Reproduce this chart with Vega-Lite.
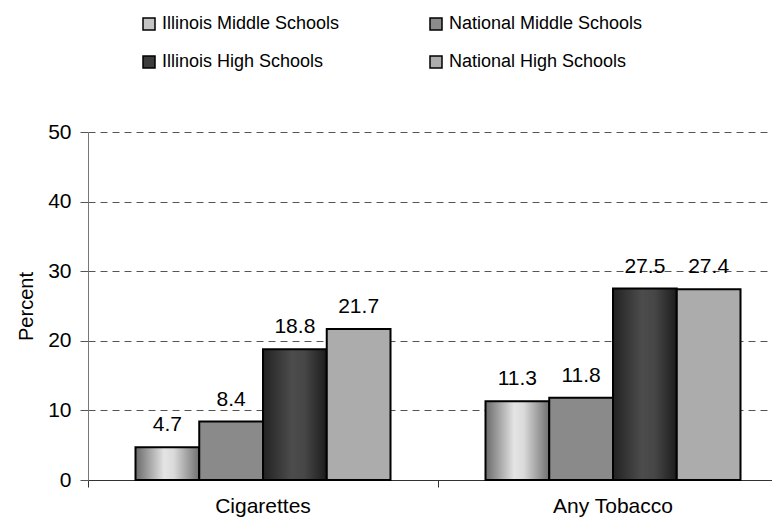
{
  "$schema": "https://vega.github.io/schema/vega-lite/v6.json",
  "width": 684,
  "height": 348,
  "autosize": {"type": "none"},
  "padding": {"left": 88, "top": 132, "right": 0, "bottom": 39},
  "background": "white",
  "config": {"view": {"stroke": null}, "font": "Liberation Sans"},
  "data": {
    "values": [
      {"measure": "Cigarettes", "group": "Illinois Middle Schools", "value": 4.7},
      {"measure": "Cigarettes", "group": "National Middle Schools", "value": 8.4},
      {"measure": "Cigarettes", "group": "Illinois High Schools", "value": 18.8},
      {"measure": "Cigarettes", "group": "National High Schools", "value": 21.7},
      {"measure": "Any Tobacco", "group": "Illinois Middle Schools", "value": 11.3},
      {"measure": "Any Tobacco", "group": "National Middle Schools", "value": 11.8},
      {"measure": "Any Tobacco", "group": "Illinois High Schools", "value": 27.5},
      {"measure": "Any Tobacco", "group": "National High Schools", "value": 27.4}
    ]
  },
  "encoding": {
    "x": {
      "field": "measure",
      "type": "nominal",
      "sort": ["Cigarettes", "Any Tobacco"],
      "scale": {"range": [0, 700], "paddingInner": 0.2714, "paddingOuter": 0.1357},
      "axis": {
        "title": null,
        "labelAngle": 0,
        "labelFontSize": 21,
        "labelColor": "black",
        "domainColor": "#333333",
        "tickColor": "#333333",
        "tickSize": 7,
        "bandPosition": -0.186,
        "labelPadding": 8,
        "grid": false
      }
    },
    "xOffset": {
      "field": "group",
      "type": "nominal",
      "sort": ["Illinois Middle Schools", "National Middle Schools", "Illinois High Schools", "National High Schools"],
      "scale": {"paddingInner": 0, "paddingOuter": 0}
    },
    "y": {
      "field": "value",
      "type": "quantitative",
      "scale": {"domain": [0, 50]},
      "axis": {
        "title": "Percent",
        "values": [0, 10, 20, 30, 40, 50],
        "grid": true,
        "gridDash": [7, 5],
        "gridColor": "#555555",
        "domainColor": "#777777",
        "tickColor": "#555555",
        "tickSize": 8,
        "labelPadding": 9,
        "labelFontSize": 21,
        "labelColor": "black",
        "titleFontSize": 20,
        "titleFontWeight": "normal",
        "titleColor": "black",
        "titlePadding": 11
      }
    }
  },
  "layer": [
    {
      "mark": {"type": "bar", "stroke": "black", "strokeWidth": 2},
      "encoding": {
        "fill": {
          "condition": [
            {"test": "datum.group === 'Illinois Middle Schools'", "value": {"gradient": "linear", "x1": 0, "y1": 0, "x2": 1, "y2": 0, "stops": [
                {"offset": 0, "color": "#6a6a6a"},
                {"offset": 0.45, "color": "#e4e4e4"},
                {"offset": 0.6, "color": "#dadada"},
                {"offset": 1, "color": "#707070"}
              ]}},
            {"test": "datum.group === 'Illinois High Schools'", "value": {"gradient": "linear", "x1": 0, "y1": 0, "x2": 1, "y2": 0, "stops": [
                {"offset": 0, "color": "#222222"},
                {"offset": 0.45, "color": "#4c4c4c"},
                {"offset": 0.65, "color": "#474747"},
                {"offset": 1, "color": "#1c1c1c"}
              ]}}
          ],
          "field": "group",
          "type": "nominal",
          "scale": {
            "domain": ["Illinois Middle Schools", "Illinois High Schools", "National Middle Schools", "National High Schools"],
            "range": ["#c4c4c4", "#3c3c3c", "#8a8a8a", "#acacac"]
          },
          "legend": {
            "title": null,
            "orient": "none",
            "legendX": 52,
            "legendY": -117,
            "columns": 2,
            "symbolType": "square",
            "symbolSize": 144,
            "symbolStrokeColor": "black",
            "symbolStrokeWidth": 1.5,
            "symbolOpacity": 1,
            "labelFontSize": 18,
            "labelColor": "black",
            "labelOffset": 4,
            "labelLimit": 400,
            "rowPadding": 20,
            "columnPadding": 87
          }
        }
      }
    },
    {
      "mark": {"type": "text", "baseline": "alphabetic", "dy": -16, "fontSize": 21, "color": "black"},
      "encoding": {
        "text": {"field": "value", "type": "quantitative", "format": ".1f"}
      }
    }
  ]
}
